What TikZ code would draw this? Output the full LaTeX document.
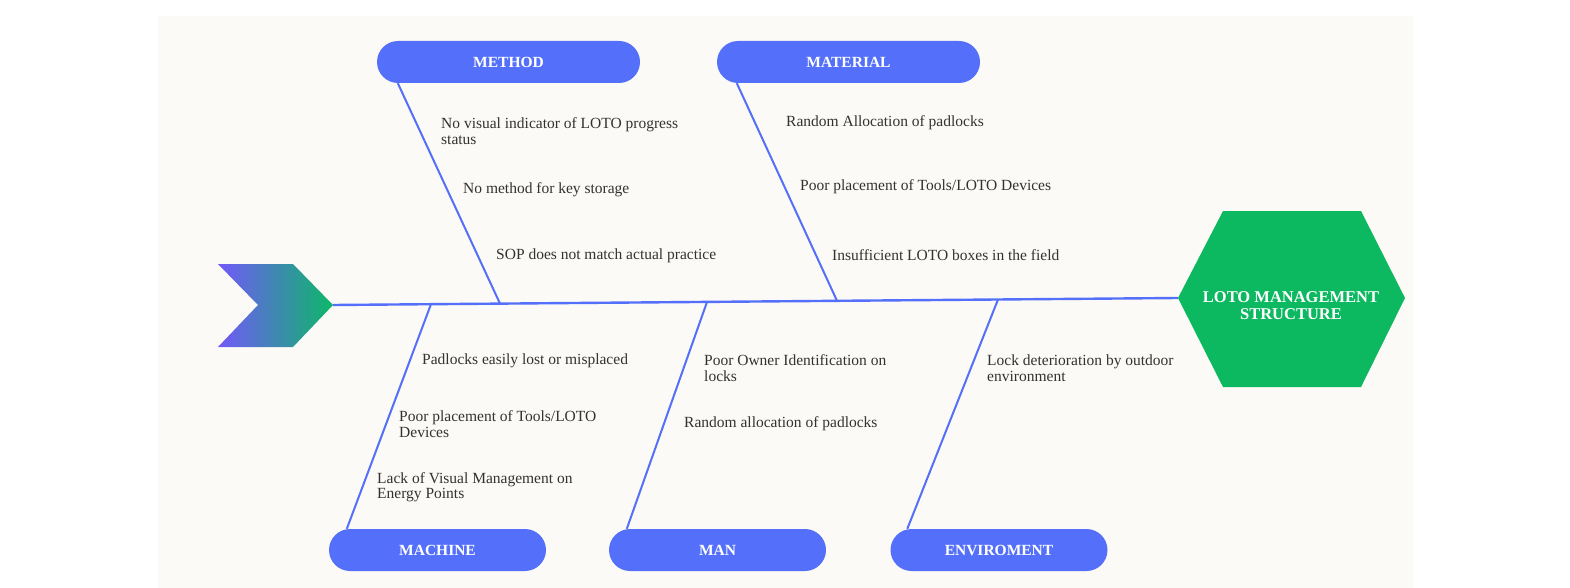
\documentclass[tikz,border=0pt]{standalone}
\usepackage{fontspec}
\setmainfont{Liberation Serif}
\definecolor{boneblue}{RGB}{84,112,250}
\definecolor{goalgreen}{RGB}{12,184,96}
\definecolor{paper}{RGB}{251,250,246}
\definecolor{tailviolet}{RGB}{114,88,250}
\definecolor{tailgreen}{RGB}{12,184,104}
\definecolor{causegray}{RGB}{50,50,50}
\tikzset{
  category/.style={fill=boneblue, rounded corners=21pt, minimum height=42pt,
    inner sep=0pt, text=white, font=\fontsize{15.5}{16}\selectfont\bfseries},
  cause/.style={anchor=west, align=left, inner sep=0pt, text=causegray,
    font=\fontsize{15.5}{15.5}\selectfont},
  bone/.style={draw=boneblue, line width=2pt},
}
\begin{document}
\begin{tikzpicture}[x=1pt,y=-1pt]
            \useasboundingbox (0,0) rectangle (1570,588);
            \fill[paper] (158,16) rectangle (1413,588);
            % spine
            \coordinate (tail) at (333,305);
            \coordinate (head) at (1178,298);
            \draw[bone, line width=2.4pt] (tail) -- (head);
            \coordinate (jmachine) at (431,304.2);
            \coordinate (jmethod) at (500,303.6);
            \coordinate (jman) at (707,302);
            \coordinate (jmaterial) at (837,300.8);
            \coordinate (jenv) at (998,299.5);
            % categories
            \node[category, minimum width=263pt] (method) at (508.5,62) {METHOD};
            \node[category, minimum width=263pt] (material) at (848.5,62) {MATERIAL};
            \node[category, minimum width=217pt] (machine) at (437.5,550) {MACHINE};
            \node[category, minimum width=217pt] (man) at (717.5,550) {MAN};
            \node[category, minimum width=217pt] (env) at (999,550) {ENVIROMENT};
            \draw[bone] ([xshift=21pt]method.south west) -- (jmethod);
            \draw[bone] ([xshift=20pt]material.south west) -- (jmaterial);
            \draw[bone] ([xshift=18pt]machine.north west) -- (jmachine);
            \draw[bone] ([xshift=18pt]man.north west) -- (jman);
            \draw[bone] ([xshift=17pt]env.north west) -- (jenv);
            % causes
            \node[cause] (c11) at (441,131) {No visual indicator of LOTO progress\\status};
            \node[cause] (c12) at (463,190) {No method for key storage};
            \node[cause] (c13) at (496,255.5) {SOP does not match actual practice};
            \node[cause] (c21) at (786,123) {Random Allocation of padlocks};
            \node[cause] (c22) at (800,187) {Poor placement of Tools/LOTO Devices};
            \node[cause] (c23) at (832,255) {Insufficient LOTO boxes in the field};
            \node[cause] (c31) at (422,361) {Padlocks easily lost or misplaced};
            \node[cause] (c32) at (399,424) {Poor placement of Tools/LOTO\\Devices};
            \node[cause] (c33) at (377,487) {Lack of Visual Management on\\Energy Points};
            \node[cause] (c41) at (704,368) {Poor Owner Identification on\\locks};
            \node[cause] (c42) at (684,423.5) {Random allocation of padlocks};
            \node[cause] (c51) at (987,368) {Lock deterioration by outdoor\\environment};
            % head and tail
            \shade[left color=tailviolet, right color=tailgreen]
              (218,264) -- (293,264) -- (tail) -- (293,347) -- (218,347) -- (258,305) -- cycle;
            \fill[goalgreen] (head) -- (1223,211) -- (1361,211) -- (1405,298)
              -- (1361,387) -- (1223,387) -- cycle;
            \node[align=center, text=white, font=\fontsize{16.5}{17}\selectfont\bfseries]
              (goal) at (1291,306) {LOTO MANAGEMENT\\STRUCTURE};
\end{tikzpicture}
\end{document}
